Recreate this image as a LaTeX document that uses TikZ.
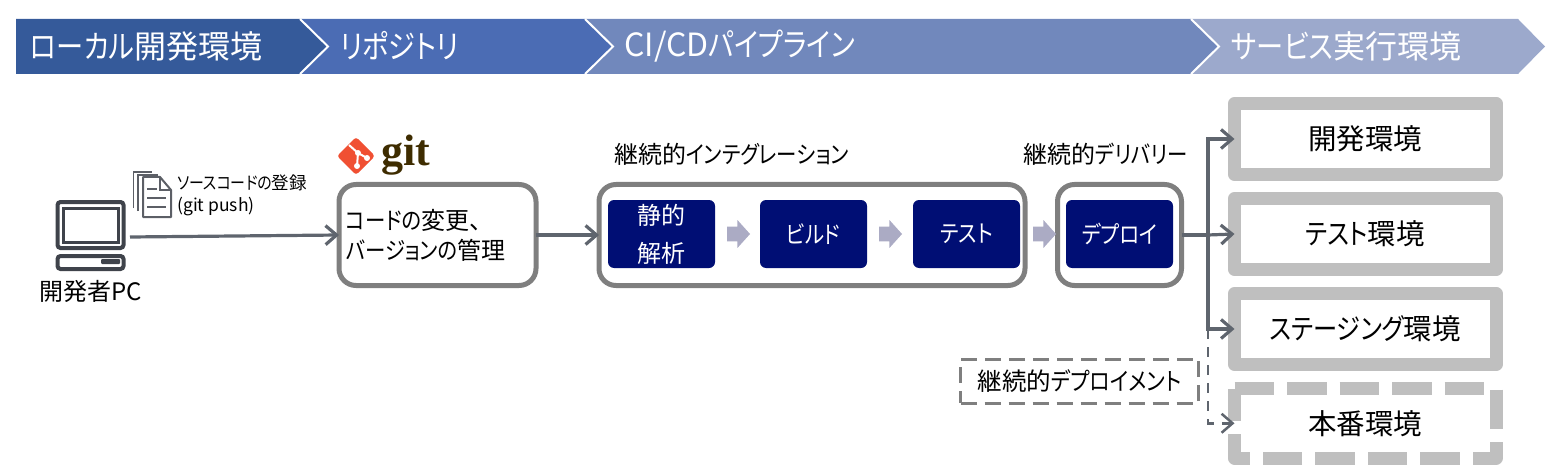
\documentclass[tikz,border=0pt]{standalone}
\usepackage{fontspec}
\setmainfont{Noto Sans CJK JP}[RawFeature=+palt]
\newfontfamily\kn{Noto Sans CJK JP}[RawFeature=+palt, FakeStretch=0.85]
\newfontfamily\gitfont{Liberation Serif}
\usetikzlibrary{arrows.meta}
\usetikzlibrary{positioning}
\usetikzlibrary{shapes.arrows}
\definecolor{stageone}{HTML}{355A9A}
\definecolor{stagetwo}{HTML}{4B6CB4}
\definecolor{stagethree}{HTML}{7188BC}
\definecolor{stagefour}{HTML}{9CA9CC}
\definecolor{linkgray}{HTML}{5F656E}
\definecolor{icongray}{HTML}{3F434B}
\definecolor{framegray}{HTML}{7F7F7F}
\definecolor{envgray}{HTML}{BFBFBF}
\definecolor{navy}{HTML}{000E74}
\definecolor{flowgray}{HTML}{ABABC4}
\definecolor{gitred}{HTML}{F05033}
\definecolor{gitbrown}{HTML}{3E2C00}
\begin{document}
\begin{tikzpicture}[x=0.5pt, y=-0.5pt]
    \tikzset{
      >={Straight Barb[length=5.5pt,width=9.5pt]},
      stagetext/.style={text=white, font=\fontsize{16}{16}\selectfont, anchor=west, inner sep=0pt},
      stageline/.style={white, line width=1pt},
      link/.style={->, linkgray, line width=1.6pt},
      group/.style={draw=framegray, line width=2.5pt, rounded corners=8.5pt, outer sep=0pt, fill=white},
      block/.style={fill=navy, text=white, rounded corners=3pt, minimum width=53.5pt, minimum height=34pt,
        inner sep=0pt, outer sep=0pt, font=\fontsize{12}{19}\selectfont, align=center},
      flow/.style={single arrow, fill=flowgray, inner xsep=0pt, inner ysep=3.5pt, outer sep=0pt, minimum height=11.5pt,
        single arrow head extend=3.25pt, single arrow tip angle=96},
      envbox/.style={draw=envgray, fill=white, line width=6.5pt, line join=round, outer sep=0pt,
        minimum width=130.75pt, minimum height=35.5pt, inner sep=0pt, font=\fontsize{14.25}{14.25}\selectfont},
      caption/.style={inner sep=0pt, font=\fontsize{12}{12}\selectfont},
      icon/.style={draw=icongray, line width=2pt, rounded corners=1.5pt},
      page/.style={draw=icongray!85, line width=0.8pt},
    }
    \useasboundingbox (0,0) rectangle (1548,465);

    \fill[stagefour] (1191,19) -- (1518,19) -- (1545,46.5) -- (1518,74) -- (1191,74) -- cycle;
    \fill[stagethree] (585,19) -- (1191,19) -- (1219,46.5) -- (1191,74) -- (585,74) -- cycle;
    \fill[stagetwo] (300,19) -- (585,19) -- (613,46.5) -- (585,74) -- (300,74) -- cycle;
    \fill[stageone] (16,19) -- (300,19) -- (328,46.5) -- (300,74) -- (16,74) -- cycle;
    \draw[stageline] (300,19) -- (328,46.5) -- (300,74);
    \draw[stageline] (585,19) -- (613,46.5) -- (585,74);
    \draw[stageline] (1191,19) -- (1219,46.5) -- (1191,74);
    \node[stagetext] (local) at (30,46) {{\kn ローカル}開発環境};
    \node[stagetext] (repos) at (340,46) {\kn リポジトリ};
    \node[stagetext] (pipeline) at (624,46) {CI/CD{\kn パイプライン}};
    \node[stagetext] (runtime) at (1231,46) {{\kn サービス}実行環境};

    \node[icon, minimum width=33pt, minimum height=23pt, inner sep=0pt] (monitor) at (90.5,225) {};
    \node[icon, minimum width=27.5pt, minimum height=17pt, inner sep=0pt, rounded corners=0pt, line width=1.5pt] (screen) at (90.5,225) {};
    \node[icon, minimum width=33pt, minimum height=6.5pt, inner sep=0pt, below=2pt of monitor] (tower) {};
    \fill[icongray, rounded corners=0.5pt] (101,259) rectangle (120,264);
    \node[caption, below=4.5pt of tower] (pc) {開発者PC};

    \draw[page] (133.5,208) -- (133.5,172) -- (152,172);
    \draw[page] (138,211) -- (138,175) -- (158,175);
    \draw[icongray!85, line width=1pt, line join=round] (143,177) -- (160,177) -- (171,190) -- (171,217) -- (143,217) -- cycle;
    \draw[page] (160,177) -- (160,190) -- (171,190);
    \draw[page] (147,189) -- (157,189);
    \draw[page] (147,198) -- (166,198);
    \draw[page] (147,207) -- (166,207);
    \node[anchor=west, inner sep=0pt, font=\fontsize{8.75}{8.75}\selectfont] (pushtext) at (177,183) {{\kn ソースコードの}登録};
    \node[anchor=west, inner sep=0pt, font=\fontsize{8.75}{8.75}\selectfont] (pushcmd) at (177,207) {(git push)};

    \fill[gitred, rounded corners=1.5pt] (337,156) -- (356,137) -- (375,156) -- (356,175) -- cycle;
    \draw[white, line width=1pt] (349,145) -- (358,153) -- (357,166);
    \draw[white, line width=1pt] (358,153) -- (367,158);
    \fill[white] (358,153) circle (1.5pt) (357,166) circle (1.5pt) (367,158) circle (1.5pt);
    \node[anchor=west, inner sep=0pt, text=gitbrown, font=\gitfont\bfseries\fontsize{22}{22}\selectfont] (git) at (381,155) {git};

    \node[group, minimum width=98.5pt, minimum height=50.5pt, inner xsep=3.5pt, inner ysep=0pt, text width=91.5pt, align=left,
      font=\fontsize{12}{15}\selectfont] (repo) at (437.5,235) {{\kn コードの}変更、\\{\kn バージョンの}管理};

    \node[group, minimum width=213pt, minimum height=50.5pt] (ci) at (812,235) {};
    \node[block] (lint) at (661.5,234) {静的\\解析};
    \node[block, right=22.5pt of lint] (build) {\kn ビルド};
    \node[block, right=23pt of build] (check) {\kn テスト};
    \node[flow, right=6pt of lint] (flowa) {};
    \node[flow, right=6pt of build] (flowb) {};
    \node[caption] (cilabel) at (731.5,154) {継続的{\kn インテグレーション}};

    \node[group, minimum width=62pt, minimum height=50.5pt] (cd) at (1119.5,235) {};
    \node[block] (deploy) at (1119.5,234) {\kn デプロイ};
    \node[flow, right=6.5pt of check] (flowc) {};
    \node[caption] (cdlabel) at (1105.5,154) {継続的{\kn デリバリー}};

    \coordinate (pcout) at (130,237);
    \draw[link] (pcout) -- (repo.west);
    \draw[link] (repo.east) -- (ci.west);

    \node[envbox] (dev) at (1365.25,139) {開発環境};
    \node[envbox] (testenv) at (1365.25,234) {{\kn テスト}環境};
    \node[envbox] (staging) at (1365.25,329) {{\kn ステージング}環境};
    \node[minimum width=130.75pt, minimum height=34.75pt, inner sep=0pt, outer sep=0pt,
      font=\fontsize{14.25}{14.25}\selectfont] (prod) at (1365.25,423.25) {本番環境};
    \draw[envgray, line width=6.5pt, line join=round, dash pattern=on 19.75pt off 6.5pt]
      (prod.north west) -- (prod.north east) -- (prod.south east) -- (prod.south west) -- cycle;

    \coordinate (trunk) at (1208,235);
    \coordinate (knee) at (1208,329);
    \draw[link] (cd.east) -- (trunk) |- (dev.west);
    \draw[link] (trunk) -- (testenv.west);
    \draw[link] (trunk) |- (staging.west);
    \draw[link, line width=1.25pt, dash pattern=on 5pt off 4pt] (knee) |- (prod.west);

    \node[draw=framegray, line width=1.5pt, dash pattern=on 8pt off 4pt, minimum width=119pt, minimum height=22pt,
      inner sep=0pt, font=\fontsize{12.25}{12.25}\selectfont] (cdeploy) at (1079.5,381) {継続的{\kn デプロイメント}};
  \end{tikzpicture}
\end{document}
